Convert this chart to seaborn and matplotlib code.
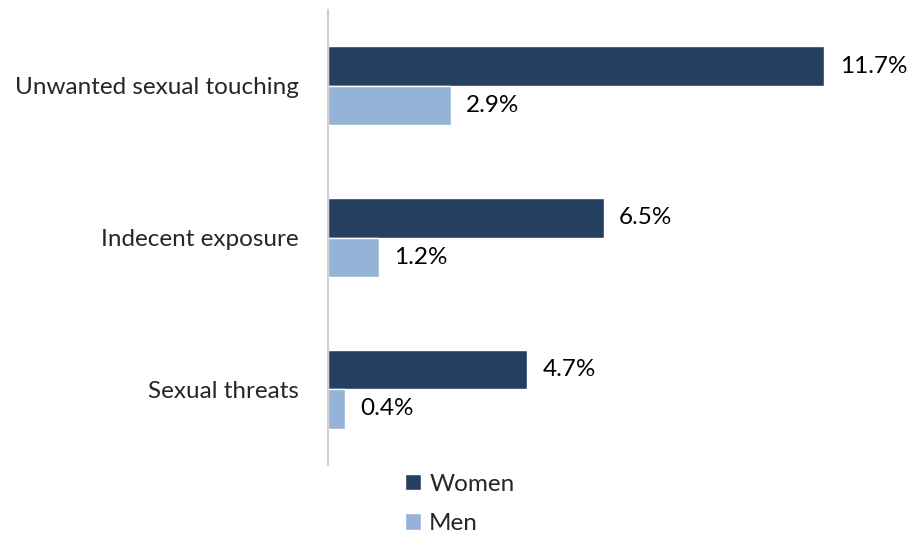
import pandas as pd
import seaborn as sns
import matplotlib.pyplot as plt

categories = ["Unwanted sexual touching", "Indecent exposure", "Sexual threats"]
women = [11.7, 6.5, 4.7]
men = [2.9, 1.2, 0.4]
series = ["Women", "Men"]

df = pd.DataFrame({
    "category": categories * 2,
    "value": women + men,
    "sex": [series[0]] * 3 + [series[1]] * 3,
})

sns.set_style("white")
plt.rcParams["font.family"] = ["Lato", "DejaVu Sans"]

fig = plt.figure(figsize=(9.08, 5.33), dpi=100)
ax = fig.add_axes([328 / 908, 68 / 533, 560 / 908, 455 / 533])

palette = {"Women": "#253F60", "Men": "#95B3D7"}
sns.barplot(data=df, y="category", x="value", hue="sex", orient="h",
            palette=palette, width=0.52, ax=ax, saturation=1)

for cont in ax.containers:
    ax.bar_label(cont, fmt="%.1f%%", padding=11, fontsize=17.5, color="#000000")

ax.set_xlim(0, 13.2)
ax.set_ylim(2.5, -0.5)
ax.set_xlabel("")
ax.set_ylabel("")
ax.set_xticks([])
ax.tick_params(axis="y", length=0, pad=21, labelsize=17.5)
for s in ["top", "right", "bottom"]:
    ax.spines[s].set_visible(False)
ax.spines["left"].set_color("#D0D0D0")
ax.spines["left"].set_linewidth(1.5)

handles, labels = ax.get_legend_handles_labels()
ax.legend_.remove()
fig.legend(handles, labels, loc="upper left", bbox_to_anchor=(383 / 908, 1 - 452 / 533),
           frameon=False, fontsize=17.5, handlelength=0.65, handleheight=0.65,
           handletextpad=0.35, labelspacing=0.75)

fig.savefig("out.png", dpi=100)
